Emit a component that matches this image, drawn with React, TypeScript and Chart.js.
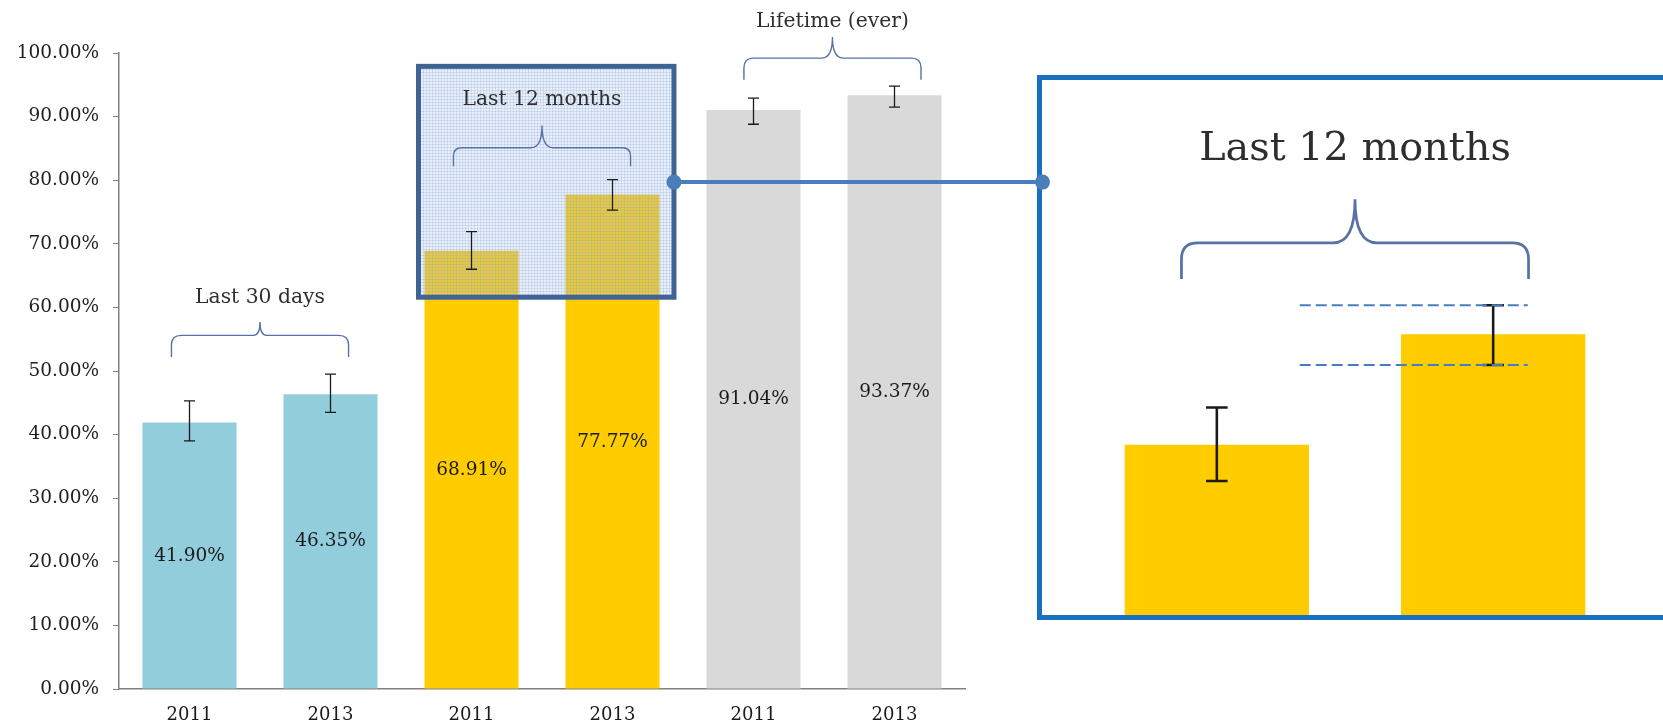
import React, { useEffect, useRef } from 'react';
import { Chart, registerables } from 'chart.js';

Chart.register(...registerables);

// ---------- data ----------
const categories = ['2011', '2013', '2011', '2013', '2011', '2013'];
const values = [41.9, 46.35, 68.91, 77.77, 91.04, 93.37];
const errLow = [39.0, 43.5, 66.0, 75.3, 88.8, 91.5];
const errHigh = [45.3, 49.5, 71.9, 80.1, 92.9, 94.8];
const yTickValues = [0, 10, 20, 30, 40, 50, 60, 70, 80, 90, 100];

const groupLabels = ['Last 30 days', 'Last 12 months', 'Lifetime (ever)'];
const groupFirstIndex = [0, 2, 4];

// ---------- annotation geometry (value units / category-spacing units) ----------
const groupLegY = [52.2, 82.2, 95.8];
const groupBarY = [55.6, 85.1, 99.2];
const groupPeakY = [57.7, 88.6, 102.5];
const groupTextY = [61.5, 92.6, 104.9];
const groupShift = [0, 0, 0.06];
const BRACKET_HALF = 0.628;

const HIGHLIGHT = { first: 2, last: 3, padLeft: 0.376, padRight: 0.436, yMin: 61.6, yMax: 97.9, connectorY: 79.7 };
const DASH = { index: 3, from: -0.7, to: 0.125 };

// ---------- styles ----------
const barColors = ['#92CDDC', '#92CDDC', '#FFCC00', '#FFCC00', '#D9D9D9', '#D9D9D9'];
const FONT = '"DejaVu Serif", serif';
const W = 1663;
const H = 727;
const PLOT = { left: 119, right: 965, top: 53, bottom: 689 };
const ZOOM = 1.96;
const INSET_BOX = { left: 1037, top: 75, width: 700, height: 545, border: 5 };
const INSET_CANVAS = { left: 526, top: 57.4 };
const INSET_W = Math.round((PLOT.right - PLOT.left) * ZOOM);
const INSET_H = Math.round((PLOT.bottom - PLOT.top) * ZOOM);

function drawBracket(ctx: CanvasRenderingContext2D, xl: number, xr: number, yLeg: number, yBar: number, yPeak: number) {
  const xm = (xl + xr) / 2;
  const r = Math.min((yLeg - yBar) * 0.45, (xr - xl) / 10);
  const r2 = Math.abs(yBar - yPeak) * 0.5;
  ctx.beginPath();
  ctx.moveTo(xl, yLeg);
  ctx.lineTo(xl, yBar + r);
  ctx.quadraticCurveTo(xl, yBar, xl + r, yBar);
  ctx.lineTo(xm - r2, yBar);
  ctx.quadraticCurveTo(xm, yBar, xm, yPeak);
  ctx.quadraticCurveTo(xm, yBar, xm + r2, yBar);
  ctx.lineTo(xr - r, yBar);
  ctx.quadraticCurveTo(xr, yBar, xr, yBar + r);
  ctx.lineTo(xr, yLeg);
  ctx.stroke();
}

function makeOverlay(k: number, isMain: boolean) {
  return {
    id: 'overlay' + (isMain ? 'Main' : 'Inset'),
    afterDatasetsDraw(chart: any) {
      const ctx: CanvasRenderingContext2D = chart.ctx;
      const ys = chart.scales.y;
      const bars = chart.getDatasetMeta(0).data;
      const spacing = bars[1].x - bars[0].x;
      ctx.save();

      let hx0 = 0, hx1 = 0, hy0 = 0, hy1 = 0;
      if (isMain) {
        hx0 = bars[HIGHLIGHT.first].x - HIGHLIGHT.padLeft * spacing;
        hx1 = bars[HIGHLIGHT.last].x + HIGHLIGHT.padRight * spacing;
        hy0 = ys.getPixelForValue(HIGHLIGHT.yMax);
        hy1 = ys.getPixelForValue(HIGHLIGHT.yMin);
        const tile = document.createElement('canvas');
        tile.width = 3; tile.height = 3;
        const tc = tile.getContext('2d')!;
        tc.fillStyle = 'rgba(170,195,232,0.26)';
        tc.fillRect(0, 0, 3, 3);
        tc.fillStyle = 'rgba(140,170,220,0.28)';
        tc.fillRect(0, 0, 3, 1);
        tc.fillRect(0, 0, 1, 3);
        const pat = ctx.createPattern(tile, 'repeat');
        ctx.fillStyle = pat || 'rgba(170,195,230,0.28)';
        ctx.fillRect(hx0, hy0, hx1 - hx0, hy1 - hy0);
      }

      // error bars
      ctx.strokeStyle = '#1a1a1a';
      ctx.lineWidth = 1.3 * k;
      bars.forEach((bar: any, i: number) => {
        const x = bar.x;
        const yH = ys.getPixelForValue(errHigh[i]);
        const yL = ys.getPixelForValue(errLow[i]);
        const c = 5.5 * k;
        ctx.beginPath();
        ctx.moveTo(x, yH); ctx.lineTo(x, yL);
        ctx.moveTo(x - c, yH); ctx.lineTo(x + c, yH);
        ctx.moveTo(x - c, yL); ctx.lineTo(x + c, yL);
        ctx.stroke();
      });

      // value labels
      if (isMain) {
        ctx.fillStyle = '#1a1a1a';
        ctx.font = `${18.5 * k}px ${FONT}`;
        ctx.textAlign = 'center';
        ctx.textBaseline = 'middle';
        bars.forEach((bar: any, i: number) => {
          ctx.fillText(values[i].toFixed(2) + '%', bar.x, ys.getPixelForValue(values[i] / 2));
        });
      }

      // brackets + group labels
      ctx.strokeStyle = '#5672A6';
      ctx.lineWidth = 1.4 * k;
      groupLabels.forEach((label, g) => {
        const a = bars[groupFirstIndex[g]].x;
        const b = bars[groupFirstIndex[g] + 1].x;
        const mid = (a + b) / 2 + groupShift[g] * spacing;
        const half = BRACKET_HALF * spacing;
        drawBracket(ctx, mid - half, mid + half, ys.getPixelForValue(groupLegY[g]), ys.getPixelForValue(groupBarY[g]), ys.getPixelForValue(groupPeakY[g]));
        ctx.fillStyle = '#2e2e2e';
        ctx.font = `${20.3 * k}px ${FONT}`;
        ctx.textAlign = 'center';
        ctx.textBaseline = 'middle';
        ctx.fillText(label, mid, ys.getPixelForValue(groupTextY[g]));
      });

      if (!isMain) {
        // dashed guide lines on the zoomed bar
        const bx = bars[DASH.index].x;
        ctx.strokeStyle = '#4A7CC4';
        ctx.lineWidth = 2;
        ctx.setLineDash([11, 5]);
        [errHigh[DASH.index], errLow[DASH.index]].forEach((v) => {
          const y = ys.getPixelForValue(v);
          ctx.beginPath();
          ctx.moveTo(bx + DASH.from * spacing, y);
          ctx.lineTo(bx + DASH.to * spacing, y);
          ctx.stroke();
        });
        ctx.setLineDash([]);
      }

      if (isMain) {
        // highlight border
        ctx.strokeStyle = '#3F6494';
        ctx.lineWidth = 5;
        ctx.strokeRect(hx0, hy0, hx1 - hx0, hy1 - hy0);
        // connector
        const cy = ys.getPixelForValue(HIGHLIGHT.connectorY);
        const cx1 = INSET_BOX.left + INSET_BOX.border / 2 + 3;
        ctx.strokeStyle = '#4A7EBB';
        ctx.lineWidth = 4;
        ctx.beginPath();
        ctx.moveTo(hx1, cy);
        ctx.lineTo(cx1, cy);
        ctx.stroke();
        ctx.fillStyle = '#4A7EBB';
        [hx1, cx1].forEach((cx) => {
          ctx.beginPath();
          ctx.arc(cx, cy, 7.5, 0, Math.PI * 2);
          ctx.fill();
        });
      }
      ctx.restore();
    },
  };
}

function baseDataset() {
  return {
    data: values,
    backgroundColor: barColors,
    borderWidth: 0,
    categoryPercentage: 1,
    barPercentage: 0.667,
  };
}

export default function App() {
  const mainRef = useRef<HTMLCanvasElement>(null);
  const insetRef = useRef<HTMLCanvasElement>(null);

  useEffect(() => {
    const main = new Chart(mainRef.current!, {
      type: 'bar',
      data: { labels: categories, datasets: [baseDataset() as any] },
      options: {
        responsive: false,
        animation: false,
        events: [],
        layout: { padding: { left: 0, right: W - PLOT.right, top: PLOT.top, bottom: 0 } },
        plugins: { legend: { display: false }, tooltip: { enabled: false } },
        scales: {
          x: {
            grid: { display: false, drawTicks: false },
            border: { display: true, color: '#808080', width: 1.5 },
            ticks: { font: { family: FONT, size: 18 }, color: '#1a1a1a', padding: 16 },
            afterFit: (s: any) => { s.height = H - PLOT.bottom; },
          },
          y: {
            min: 0,
            max: 100,
            afterBuildTicks: (s: any) => { s.ticks = yTickValues.map((v) => ({ value: v })); },
            grid: { display: true, drawOnChartArea: false, drawTicks: true, tickLength: 6, color: '#808080' },
            border: { display: true, color: '#808080', width: 1.5 },
            ticks: {
              font: { family: FONT, size: 18.5 },
              color: '#1f1f1f',
              padding: 14,
              callback: (v: any) => Number(v).toFixed(2) + '%',
            },
            afterFit: (s: any) => { s.width = PLOT.left; },
          },
        },
      },
      plugins: [makeOverlay(1, true)],
    } as any);

    const inset = new Chart(insetRef.current!, {
      type: 'bar',
      data: { labels: categories, datasets: [baseDataset() as any] },
      options: {
        responsive: false,
        animation: false,
        events: [],
        layout: { padding: 0 },
        plugins: { legend: { display: false }, tooltip: { enabled: false } },
        scales: {
          x: { display: false },
          y: { display: false, min: 0, max: 100 },
        },
      },
      plugins: [makeOverlay(ZOOM, false)],
    } as any);

    return () => {
      main.destroy();
      inset.destroy();
    };
  }, []);

  const innerLeft = INSET_BOX.left + INSET_BOX.border;
  const innerTop = INSET_BOX.top + INSET_BOX.border;

  return (
    <div style={{ position: 'fixed', left: 0, top: 0, width: W, height: H, overflow: 'hidden', background: '#ffffff' }}>
      <div
        style={{
          position: 'absolute',
          left: INSET_BOX.left,
          top: INSET_BOX.top,
          width: INSET_BOX.width,
          height: INSET_BOX.height,
          border: `${INSET_BOX.border}px solid #1A70C0`,
          boxSizing: 'border-box',
          overflow: 'hidden',
          background: '#ffffff',
        }}
      >
        <canvas
          ref={insetRef}
          width={INSET_W}
          height={INSET_H}
          style={{ position: 'absolute', left: INSET_CANVAS.left - innerLeft, top: INSET_CANVAS.top - innerTop }}
        />
      </div>
      <canvas ref={mainRef} width={W} height={H} style={{ position: 'absolute', left: 0, top: 0 }} />
    </div>
  );
}
